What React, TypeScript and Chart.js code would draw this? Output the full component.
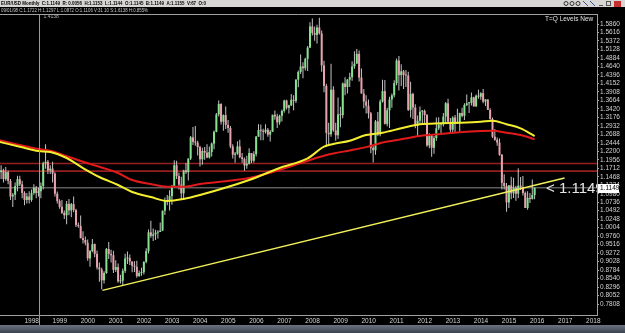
import React, { useEffect, useRef } from 'react';
import { Chart, registerables } from 'chart.js';

Chart.register(...registerables);

// months are counted from Jan 1997 (= 0); first candle is Feb 1997
const FIRST_MONTH = 1;

const opens = [
  1.200, 1.160, 1.165, 1.140, 1.160, 1.135, 1.090, 1.095, 1.120, 1.140, 1.125,
  1.100, 1.080, 1.090, 1.080, 1.100, 1.115, 1.100, 1.105, 1.120, 1.185, 1.190, 1.165,
  1.170, 1.156, 1.098, 1.077, 1.060, 1.043, 1.036, 1.069, 1.050, 1.068, 1.051, 1.008,
  1.005, 0.970, 0.965, 0.957, 0.912, 0.933, 0.953, 0.925, 0.886, 0.880, 0.849, 0.870,
  0.939, 0.925, 0.921, 0.879, 0.887, 0.846, 0.848, 0.876, 0.912, 0.913, 0.903, 0.891,
  0.888, 0.861, 0.870, 0.872, 0.902, 0.933, 0.987, 0.977, 0.981, 0.986, 0.988, 0.992,
  1.049, 1.077, 1.078, 1.091, 1.117, 1.180, 1.149, 1.124, 1.099, 1.165, 1.160, 1.199,
  1.260, 1.247, 1.245, 1.232, 1.197, 1.221, 1.216, 1.202, 1.218, 1.242, 1.276, 1.326,
  1.356, 1.305, 1.324, 1.296, 1.287, 1.234, 1.210, 1.213, 1.234, 1.203, 1.198, 1.179,
  1.184, 1.215, 1.193, 1.212, 1.262, 1.281, 1.279, 1.276, 1.282, 1.268, 1.276, 1.325,
  1.320, 1.303, 1.322, 1.336, 1.366, 1.345, 1.352, 1.368, 1.365, 1.426, 1.448, 1.464,
  1.459, 1.486, 1.518, 1.579, 1.560, 1.555, 1.576, 1.559, 1.467, 1.408, 1.273, 1.269,
  1.397, 1.280, 1.266, 1.326, 1.324, 1.415, 1.405, 1.426, 1.433, 1.464, 1.472, 1.500,
  1.432, 1.386, 1.363, 1.351, 1.329, 1.230, 1.223, 1.306, 1.269, 1.363, 1.393, 1.299,
  1.338, 1.369, 1.381, 1.416, 1.481, 1.439, 1.450, 1.439, 1.438, 1.339, 1.385, 1.346,
  1.294, 1.308, 1.334, 1.336, 1.324, 1.237, 1.266, 1.230, 1.258, 1.286, 1.297, 1.298,
  1.320, 1.358, 1.305, 1.282, 1.317, 1.300, 1.301, 1.330, 1.322, 1.353, 1.358, 1.359,
  1.375, 1.349, 1.380, 1.377, 1.387, 1.363, 1.369, 1.339, 1.313, 1.262, 1.253, 1.245,
  1.210, 1.129, 1.120, 1.073, 1.122, 1.099, 1.115, 1.098, 1.121, 1.117, 1.100, 1.057,
  1.086, 1.083, 1.094,
];
const highs = [
  1.205, 1.180, 1.170, 1.175, 1.165, 1.140, 1.100, 1.130, 1.150, 1.150, 1.135,
  1.105, 1.100, 1.105, 1.110, 1.125, 1.120, 1.115, 1.130, 1.190, 1.240, 1.195, 1.180,
  1.190, 1.160, 1.104, 1.082, 1.080, 1.050, 1.077, 1.083, 1.071, 1.090, 1.055, 1.015,
  1.035, 0.990, 0.975, 0.966, 0.936, 0.968, 0.955, 0.935, 0.900, 0.885, 0.875, 0.942,
  0.959, 0.937, 0.934, 0.907, 0.897, 0.865, 0.883, 0.925, 0.932, 0.923, 0.904, 0.904,
  0.905, 0.877, 0.885, 0.904, 0.941, 0.995, 1.020, 0.998, 0.994, 0.993, 1.015, 1.050,
  1.087, 1.094, 1.108, 1.123, 1.194, 1.193, 1.158, 1.147, 1.167, 1.186, 1.200, 1.264,
  1.290, 1.293, 1.250, 1.236, 1.230, 1.232, 1.240, 1.234, 1.245, 1.280, 1.330, 1.366,
  1.358, 1.326, 1.349, 1.310, 1.293, 1.240, 1.218, 1.249, 1.253, 1.215, 1.202, 1.207,
  1.229, 1.215, 1.220, 1.264, 1.298, 1.297, 1.285, 1.298, 1.287, 1.281, 1.325, 1.337,
  1.328, 1.325, 1.340, 1.368, 1.368, 1.354, 1.385, 1.381, 1.427, 1.452, 1.498, 1.476,
  1.489, 1.523, 1.591, 1.602, 1.579, 1.584, 1.604, 1.567, 1.480, 1.414, 1.302, 1.472,
  1.407, 1.302, 1.375, 1.348, 1.418, 1.433, 1.428, 1.446, 1.479, 1.508, 1.514, 1.510,
  1.458, 1.399, 1.381, 1.369, 1.333, 1.238, 1.310, 1.333, 1.369, 1.426, 1.425, 1.345,
  1.377, 1.386, 1.424, 1.487, 1.494, 1.470, 1.454, 1.454, 1.449, 1.420, 1.388, 1.355,
  1.323, 1.349, 1.339, 1.340, 1.327, 1.272, 1.268, 1.264, 1.317, 1.318, 1.302, 1.330,
  1.362, 1.371, 1.316, 1.321, 1.324, 1.342, 1.331, 1.345, 1.358, 1.383, 1.362, 1.389,
  1.377, 1.383, 1.397, 1.390, 1.399, 1.370, 1.370, 1.344, 1.317, 1.284, 1.260, 1.257,
  1.212, 1.154, 1.129, 1.122, 1.147, 1.144, 1.121, 1.171, 1.146, 1.149, 1.104, 1.105,
  1.100, 1.139, 1.116,
];
const lows = [
  1.150, 1.140, 1.130, 1.135, 1.125, 1.080, 1.060, 1.080, 1.105, 1.120, 1.085,
  1.065, 1.070, 1.070, 1.075, 1.095, 1.085, 1.090, 1.085, 1.110, 1.170, 1.155, 1.155,
  1.130, 1.090, 1.070, 1.055, 1.040, 1.025, 1.010, 1.036, 1.030, 1.045, 1.002, 1.000,
  0.970, 0.955, 0.950, 0.905, 0.888, 0.930, 0.915, 0.880, 0.845, 0.823, 0.840, 0.868,
  0.910, 0.900, 0.870, 0.873, 0.842, 0.840, 0.834, 0.870, 0.896, 0.893, 0.872, 0.873,
  0.856, 0.859, 0.862, 0.866, 0.898, 0.926, 0.971, 0.962, 0.965, 0.969, 0.988, 0.991,
  1.037, 1.065, 1.050, 1.066, 1.117, 1.140, 1.110, 1.080, 1.082, 1.155, 1.136, 1.195,
  1.238, 1.236, 1.208, 1.176, 1.181, 1.196, 1.200, 1.199, 1.205, 1.226, 1.275, 1.320,
  1.297, 1.279, 1.284, 1.273, 1.229, 1.199, 1.187, 1.210, 1.200, 1.187, 1.164, 1.170,
  1.182, 1.186, 1.188, 1.205, 1.262, 1.252, 1.252, 1.271, 1.262, 1.248, 1.276, 1.311,
  1.287, 1.296, 1.306, 1.331, 1.340, 1.329, 1.350, 1.338, 1.359, 1.404, 1.442, 1.430,
  1.452, 1.451, 1.518, 1.553, 1.538, 1.530, 1.556, 1.449, 1.390, 1.233, 1.239, 1.262,
  1.276, 1.250, 1.255, 1.289, 1.315, 1.381, 1.386, 1.405, 1.423, 1.457, 1.472, 1.421,
  1.386, 1.344, 1.329, 1.314, 1.214, 1.188, 1.210, 1.264, 1.263, 1.360, 1.297, 1.292,
  1.287, 1.345, 1.375, 1.410, 1.395, 1.408, 1.399, 1.405, 1.336, 1.317, 1.313, 1.286,
  1.262, 1.299, 1.298, 1.300, 1.233, 1.229, 1.204, 1.213, 1.250, 1.281, 1.268, 1.291,
  1.300, 1.304, 1.274, 1.275, 1.275, 1.299, 1.276, 1.318, 1.310, 1.350, 1.330, 1.352,
  1.349, 1.348, 1.371, 1.368, 1.358, 1.350, 1.339, 1.311, 1.258, 1.250, 1.236, 1.207,
  1.110, 1.110, 1.046, 1.057, 1.082, 1.086, 1.078, 1.085, 1.109, 1.093, 1.057, 1.052,
  1.071, 1.081, 1.082,
];
const closes = [
  1.160, 1.165, 1.140, 1.160, 1.135, 1.090, 1.095, 1.120, 1.140, 1.125, 1.100,
  1.080, 1.090, 1.080, 1.100, 1.115, 1.100, 1.105, 1.120, 1.185, 1.190, 1.165, 1.170,
  1.156, 1.098, 1.077, 1.060, 1.043, 1.036, 1.069, 1.050, 1.068, 1.051, 1.008, 1.005,
  0.970, 0.965, 0.957, 0.912, 0.933, 0.953, 0.925, 0.886, 0.880, 0.849, 0.870, 0.939,
  0.925, 0.921, 0.879, 0.887, 0.846, 0.848, 0.876, 0.912, 0.913, 0.903, 0.891, 0.888,
  0.861, 0.870, 0.872, 0.902, 0.933, 0.987, 0.977, 0.981, 0.986, 0.988, 0.992, 1.049,
  1.077, 1.078, 1.091, 1.117, 1.180, 1.149, 1.124, 1.099, 1.165, 1.160, 1.199, 1.260,
  1.247, 1.245, 1.232, 1.197, 1.221, 1.216, 1.202, 1.218, 1.242, 1.276, 1.326, 1.356,
  1.305, 1.324, 1.296, 1.287, 1.234, 1.210, 1.213, 1.234, 1.203, 1.198, 1.179, 1.184,
  1.215, 1.193, 1.212, 1.262, 1.281, 1.279, 1.276, 1.282, 1.268, 1.276, 1.325, 1.320,
  1.303, 1.322, 1.336, 1.366, 1.345, 1.352, 1.368, 1.365, 1.426, 1.448, 1.464, 1.459,
  1.486, 1.518, 1.579, 1.560, 1.555, 1.576, 1.559, 1.467, 1.408, 1.273, 1.269, 1.397,
  1.280, 1.266, 1.326, 1.324, 1.415, 1.405, 1.426, 1.433, 1.464, 1.472, 1.500, 1.432,
  1.386, 1.363, 1.351, 1.329, 1.230, 1.223, 1.306, 1.269, 1.363, 1.393, 1.299, 1.338,
  1.369, 1.381, 1.416, 1.481, 1.439, 1.450, 1.439, 1.438, 1.339, 1.385, 1.346, 1.294,
  1.308, 1.334, 1.336, 1.324, 1.237, 1.266, 1.230, 1.258, 1.286, 1.297, 1.298, 1.320,
  1.358, 1.305, 1.282, 1.317, 1.300, 1.301, 1.330, 1.322, 1.353, 1.358, 1.359, 1.375,
  1.349, 1.380, 1.377, 1.387, 1.363, 1.369, 1.339, 1.313, 1.262, 1.253, 1.245, 1.210,
  1.129, 1.120, 1.073, 1.122, 1.099, 1.115, 1.098, 1.121, 1.117, 1.100, 1.057, 1.086,
  1.083, 1.094, 1.1149,
];

// moving averages (sampled along the curve)
const maMonths = [1, 10, 18, 23, 30, 37, 44, 52, 58, 66, 73, 80, 87, 108, 121, 133, 140, 144, 151, 158, 165, 173, 181, 190, 198, 207, 212, 218, 224, 230];
const yellowMA = [1.2475, 1.2332, 1.2208, 1.2179, 1.2007, 1.1719, 1.146, 1.123, 1.1029, 1.0885, 1.077, 1.0828, 1.0942, 1.1374, 1.1719, 1.1998, 1.2332, 1.2409, 1.2504, 1.2668, 1.2734, 1.2861, 1.2976, 1.3005, 1.3022, 1.3051, 1.3079, 1.2976, 1.2861, 1.2639];
const redMA = [1.2524, 1.238, 1.2265, 1.2217, 1.2057, 1.19, 1.1756, 1.1575, 1.1374, 1.1259, 1.1181, 1.1181, 1.1259, 1.1431, 1.1661, 1.193, 1.207, 1.2135, 1.2225, 1.232, 1.245, 1.2546, 1.2639, 1.2697, 1.2746, 1.2783, 1.2792, 1.2734, 1.2668, 1.2544];

const levelPrices = [1.185, 1.163];
const bidPrice = 1.1149;
const trendMonths = [45.3, 242.8];
const trendPrices = [0.820, 1.143];
const markerMonth = 18;

const yearLabels = ['1998', '1999', '2000', '2001', '2002', '2003', '2004', '2005', '2006', '2007', '2008', '2009', '2010', '2011', '2012', '2013', '2014', '2015', '2016', '2017', '2018'];
const priceTicks = ['1.5860', '1.5616', '1.5372', '1.5128', '1.4884', '1.4640', '1.4396', '1.4152', '1.3908', '1.3664', '1.3420', '1.3176', '1.2932', '1.2688', '1.2444', '1.2200', '1.1956', '1.1712', '1.1468', '1.1224', '1.0980', '1.0736', '1.0492', '1.0248', '1.0004', '0.9760', '0.9516', '0.9272', '0.9028', '0.8784', '0.8540', '0.8296', '0.8052', '0.7808'];

const titleText = 'EUR/USD Monthly  C:1.1149  R: 0.0056  H:1.1153  L:1.1144  O:1.1145  B:1.1149  A:1.1155  V:67  O:0';
const infoText = '09/01/98 C:1.1722 H:1.1297 L:1.0872 O:1.1106 V:31 10 S:1.6138 H:0.855%';
const indicatorName = 'T=Q Levels New';
const markerText = '1.4138';

const X_MIN = 1.53;
const X_MAX = 256.66;
const Y_MIN = 0.7492;
const Y_MAX = 1.6148;

const FONT = '"Liberation Sans", Arial, sans-serif';
const BULL = '#86e290';
const BEAR = '#e8a2ae';
const WICK = '#c4c4c4';

const decorPlugin = {
  id: 'decor',
  beforeDraw(chart: any) {
    const { ctx, width, height } = chart;
    ctx.save();
    ctx.fillStyle = '#000';
    ctx.fillRect(0, 0, width, height);
    // title bar
    ctx.fillStyle = '#d8d6d2';
    ctx.fillRect(0, 0, width, 7);
    ctx.fillStyle = '#000';
    ctx.font = `bold 6px ${FONT}`;
    ctx.textBaseline = 'middle';
    ctx.fillText(titleText, 1, 3.8, 205);
    // toolbar icons
    ctx.strokeStyle = '#333';
    ctx.lineWidth = 1;
    const ic = [566, 572, 578];
    ic.forEach((x) => { ctx.beginPath(); ctx.arc(x, 3.5, 2, 0, Math.PI * 2); ctx.stroke(); });
    ctx.strokeStyle = '#3050a0';
    ctx.beginPath(); ctx.moveTo(583, 1); ctx.lineTo(588, 6); ctx.moveTo(590, 1); ctx.lineTo(595, 6); ctx.stroke();
    ctx.fillStyle = '#555';
    ctx.fillRect(599, 5, 4, 1);
    ctx.strokeStyle = '#555';
    ctx.strokeRect(606.5, 1.5, 4, 4);
    ctx.fillStyle = '#c83030';
    ctx.fillRect(614, 1, 7, 6);
    // info line
    ctx.fillStyle = '#c8c8c8';
    ctx.font = `5.5px ${FONT}`;
    ctx.fillText(infoText, 1, 10.5, 147);
    // bottom strip
    const g = ctx.createLinearGradient(0, 325, 0, 333);
    g.addColorStop(0, '#6c7480');
    g.addColorStop(1, '#3a4250');
    ctx.fillStyle = g;
    ctx.fillRect(0, 325, width, 8);
    ctx.restore();
  },
  afterDraw(chart: any) {
    const { ctx, chartArea: a } = chart;
    const xs = chart.scales.x;
    const ys = chart.scales.y;
    ctx.save();
    // top frame line
    ctx.strokeStyle = '#a0a0a0';
    ctx.lineWidth = 1;
    ctx.beginPath(); ctx.moveTo(a.left, a.top + 0.5); ctx.lineTo(a.right, a.top + 0.5); ctx.stroke();
    // vertical marker
    const vx = Math.round(xs.getPixelForValue(markerMonth)) + 0.5;
    ctx.strokeStyle = '#9a9a9a';
    ctx.beginPath(); ctx.moveTo(vx, a.top); ctx.lineTo(vx, 325); ctx.stroke();
    ctx.fillStyle = '#b0b0b0';
    ctx.font = `5px ${FONT}`;
    ctx.textBaseline = 'middle';
    ctx.fillText(markerText, vx + 4, a.top + 2.5);
    // indicator name
    ctx.fillStyle = '#e0e0e0';
    ctx.font = `6.5px ${FONT}`;
    ctx.fillText(indicatorName, 545, 19.5);
    // big bid text, clipped to the plot
    const py = ys.getPixelForValue(bidPrice);
    ctx.save();
    ctx.beginPath(); ctx.rect(a.left, a.top, a.right - a.left, a.bottom - a.top); ctx.clip();
    ctx.fillStyle = '#e6e6e6';
    ctx.font = `15px ${FONT}`;
    ctx.fillText('< ' + bidPrice.toFixed(4), 546, py + 1);
    ctx.restore();
    // bid label on axis
    ctx.fillStyle = '#ffffff';
    ctx.fillRect(a.right + 1, Math.round(py) - 4, 21, 9);
    ctx.fillStyle = '#000';
    ctx.font = `6.5px ${FONT}`;
    ctx.fillText(bidPrice.toFixed(4), a.right + 3, py + 0.5);
    ctx.restore();
  },
};

export default function App() {
  const ref = useRef<HTMLCanvasElement | null>(null);
  useEffect(() => {
    if (!ref.current) return;
    const months = closes.map((_, k) => FIRST_MONTH + k);
    const wickData = months.map((m, k) => ({ x: m, y: [lows[k], highs[k]] }));
    const bodyData = months.map((m, k) => ({ x: m, y: [opens[k], closes[k]] }));
    const bodyColors = closes.map((c, k) => (c >= opens[k] ? BULL : BEAR));
    const flat = (v: number) => [{ x: X_MIN, y: v }, { x: X_MAX, y: v }];
    const lineBase = { type: 'line', pointRadius: 0, clip: 0, fill: false };
    const chart = new Chart(ref.current, {
      type: 'bar',
      data: {
        datasets: [
          ...levelPrices.map((p) => ({ ...lineBase, data: flat(p), borderColor: '#962020', borderWidth: 1.6, order: 6 })),
          { ...lineBase, data: flat(bidPrice), borderColor: '#8a8a8a', borderWidth: 1, order: 6 },
          { type: 'bar', data: wickData, backgroundColor: WICK, barThickness: 1, grouped: false, inflateAmount: 0, borderWidth: 0, clip: 0, order: 5 },
          { type: 'bar', data: bodyData, backgroundColor: bodyColors, barThickness: 2, grouped: false, inflateAmount: 0, borderWidth: 0, minBarLength: 1, clip: 0, order: 4 },
          { ...lineBase, data: trendMonths.map((m, k) => ({ x: m, y: trendPrices[k] })), borderColor: '#f2f05a', borderWidth: 1.5, order: 3 },
          { ...lineBase, data: maMonths.map((m, k) => ({ x: m, y: redMA[k] })), borderColor: '#e01a1a', borderWidth: 2, cubicInterpolationMode: 'monotone', order: 2 },
          { ...lineBase, data: maMonths.map((m, k) => ({ x: m, y: yellowMA[k] })), borderColor: '#f4ee30', borderWidth: 2, cubicInterpolationMode: 'monotone', order: 1 },
        ] as any,
      },
      options: {
        animation: false,
        responsive: false,
        devicePixelRatio: 1,
        events: [],
        layout: { padding: { top: 14, bottom: 8, left: 0, right: 0 } },
        plugins: { legend: { display: false }, tooltip: { enabled: false } },
        scales: {
          x: {
            type: 'linear',
            min: X_MIN,
            max: X_MAX,
            offset: false,
            afterBuildTicks: (s: any) => { s.ticks = yearLabels.map((y) => ({ value: (Number(y) - 1997) * 12 })); },
            afterFit: (s: any) => { s.height = 10; },
            ticks: {
              color: '#d4d4d4',
              font: { size: 6.5, family: FONT },
              padding: 2,
              align: 'start',
              maxRotation: 0,
              autoSkip: false,
              callback: (v: any) => yearLabels[Math.round(Number(v) / 12) - 1],
            },
            grid: { display: true, drawOnChartArea: false, drawTicks: false, color: '#a0a0a0' },
            border: { display: true, color: '#a0a0a0', width: 1 },
          },
          y: {
            type: 'linear',
            position: 'right',
            min: Y_MIN,
            max: Y_MAX,
            afterBuildTicks: (s: any) => { s.ticks = priceTicks.map((t) => ({ value: parseFloat(t) })); },
            afterFit: (s: any) => { s.width = 28; },
            ticks: {
              color: '#d4d4d4',
              font: { size: 6.5, family: FONT },
              padding: 1,
              autoSkip: false,
              callback: (v: any) => Number(v).toFixed(4),
            },
            grid: { drawOnChartArea: false, drawTicks: true, tickLength: 2, color: '#a0a0a0' },
            border: { display: true, color: '#a0a0a0', width: 1 },
          },
        },
      } as any,
      plugins: [decorPlugin],
    });
    return () => chart.destroy();
  }, []);
  return (
    <div style={{ position: 'absolute', left: 0, top: 0, width: 625, height: 333, background: '#000' }}>
      <canvas ref={ref} width={625} height={333} style={{ display: 'block' }} />
    </div>
  );
}
